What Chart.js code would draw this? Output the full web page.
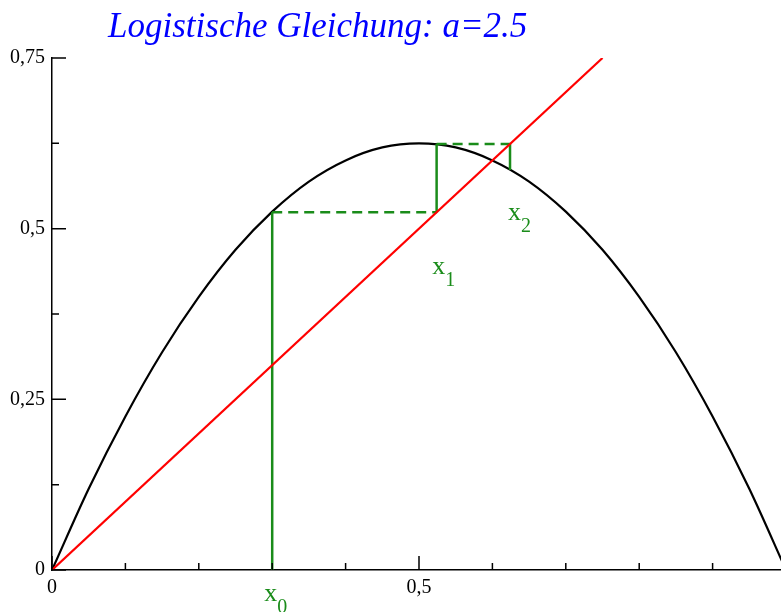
<!DOCTYPE html>
<html>
<head>
<meta charset="utf-8">
<script src="https://cdn.jsdelivr.net/npm/chart.js@4/dist/chart.umd.min.js"></script>
<style>
  html, body { margin: 0; padding: 0; background: #fff; overflow: hidden; }
  #frame { width: 781px; height: 612px; overflow: hidden; position: relative; }
  #logistic { position: absolute; left: 0; top: 0; }
</style>
</head>
<body>
<div id="frame"><canvas id="logistic" width="786" height="612"></canvas></div>
<script>
// f(x) = a*x*(1-x), a = 2.5, sampled every 0.05
const curveX = [0, 0.05, 0.1, 0.15, 0.2, 0.25, 0.3, 0.35, 0.4, 0.45, 0.5,
                0.55, 0.6, 0.65, 0.7, 0.75, 0.8, 0.85, 0.9, 0.95, 1];
const curveY = [0, 0.119, 0.225, 0.319, 0.4, 0.469, 0.525, 0.569, 0.6, 0.619, 0.625,
                0.619, 0.6, 0.569, 0.525, 0.469, 0.4, 0.319, 0.225, 0.119, 0];

// diagonal y = x
const diagX = [0, 0.75];
const diagY = [0, 0.75];

// iterates x0, x1, x2, x3
const orbit = [0.3, 0.524, 0.624, 0.586];

// subscript labels (centre x, baseline y in data units)
const iterNames = ['0', '1', '2'];
const iterLabelX = [0.298, 0.527, 0.630];
const iterLabelY = [-0.045, 0.434, 0.513];

const xTicks = [0, 0.5];
const yTicks = [0, 0.25, 0.5, 0.75];
const xMajor = [0, 0.5, 1];

const GREEN = 'rgb(26,140,26)';
const SERIF = '"Liberation Serif", "DejaVu Serif", serif';

const pts = (xs, ys) => xs.map((x, i) => ({ x, y: ys[i] }));
const isIn = (list, v) => list.some(t => Math.abs(t - v) < 1e-9);
const fmt = v => String(v).replace('.', ',');

// cobweb: solid verticals, dashed horizontals
const cobweb = [];
for (let n = 0; n < orbit.length - 1; n++) {
  const from = n === 0 ? 0 : orbit[n];
  cobweb.push({ data: pts([orbit[n], orbit[n]], [from, orbit[n + 1]]), dash: [] });
  if (n < orbit.length - 2) {
    cobweb.push({ data: pts([orbit[n], orbit[n + 1]], [orbit[n + 1], orbit[n + 1]]), dash: [10, 6] });
  }
}

const lineDefaults = { showLine: true, pointRadius: 0, fill: false, borderWidth: 2.2 };

const datasets = [
  Object.assign({}, lineDefaults, { data: pts(diagX, diagY), borderColor: '#ff0000' }),
  ...cobweb.map(c => Object.assign({}, lineDefaults, { data: c.data, borderColor: GREEN, borderDash: c.dash, borderWidth: 2.5 })),
  Object.assign({}, lineDefaults, { data: pts(curveX, curveY), borderColor: '#000', cubicInterpolationMode: 'monotone' })
];

// inward tick marks, title and iterate labels
const decorations = {
  id: 'decorations',
  afterDraw(chart) {
    const { ctx, scales: { x, y } } = chart;
    ctx.save();
    ctx.strokeStyle = '#000';
    ctx.lineWidth = 1.5;
    ctx.beginPath();
    x.ticks.forEach(t => {
      const px = x.getPixelForValue(t.value);
      const len = isIn(xMajor, t.value) ? 14 : 7;
      ctx.moveTo(px, y.bottom);
      ctx.lineTo(px, y.bottom - len);
    });
    y.ticks.forEach(t => {
      const py = y.getPixelForValue(t.value);
      const len = isIn(yTicks, t.value) ? 14 : 7;
      ctx.moveTo(x.left, py);
      ctx.lineTo(x.left + len, py);
    });
    ctx.stroke();

    ctx.fillStyle = '#0000ff';
    ctx.font = 'italic 35px ' + SERIF;
    ctx.textAlign = 'left';
    ctx.textBaseline = 'alphabetic';
    ctx.fillText('Logistische Gleichung: a=2.5', 108, 37);

    ctx.fillStyle = GREEN;
    iterNames.forEach((name, i) => {
      const px = x.getPixelForValue(iterLabelX[i]);
      const py = y.getPixelForValue(iterLabelY[i]);
      ctx.font = '26px ' + SERIF;
      ctx.textAlign = 'center';
      ctx.fillText('x', px, py);
      const w = ctx.measureText('x').width;
      ctx.font = '20px ' + SERIF;
      ctx.textAlign = 'left';
      ctx.fillText(name, px + w / 2, py + 12);
    });
    ctx.restore();
  }
};

new Chart(document.getElementById('logistic'), {
  type: 'line',
  data: { datasets },
  plugins: [decorations],
  options: {
    responsive: false,
    animation: false,
    devicePixelRatio: 1,
    layout: { padding: { top: 58, left: 0, right: 0, bottom: 0 } },
    plugins: { legend: { display: false }, tooltip: { enabled: false }, title: { display: false } },
    scales: {
      x: {
        type: 'linear', min: 0, max: 1,
        // axis runs to the canvas edge, no room kept for end labels
        afterFit: s => { s.height = 42; s.paddingLeft = 0; s.paddingRight = 0; },
        grid: { display: false, drawTicks: false },
        border: { display: true, color: '#000', width: 1.5 },
        ticks: {
          stepSize: 0.1, padding: 6, color: '#000', maxRotation: 0, autoSkip: false,
          font: { family: SERIF, size: 20 },
          callback: v => isIn(xTicks, v) ? fmt(v) : ''
        }
      },
      y: {
        type: 'linear', min: 0, max: 0.75,
        afterFit: s => { s.width = 52; s.paddingTop = 0; s.paddingBottom = 0; },
        grid: { display: false, drawTicks: false },
        border: { display: true, color: '#000', width: 1.5 },
        ticks: {
          stepSize: 0.125, padding: 7, color: '#000', autoSkip: false,
          font: { family: SERIF, size: 20 },
          callback: v => isIn(yTicks, v) ? fmt(v) : ''
        }
      }
    }
  }
});
</script>
</body>
</html>
